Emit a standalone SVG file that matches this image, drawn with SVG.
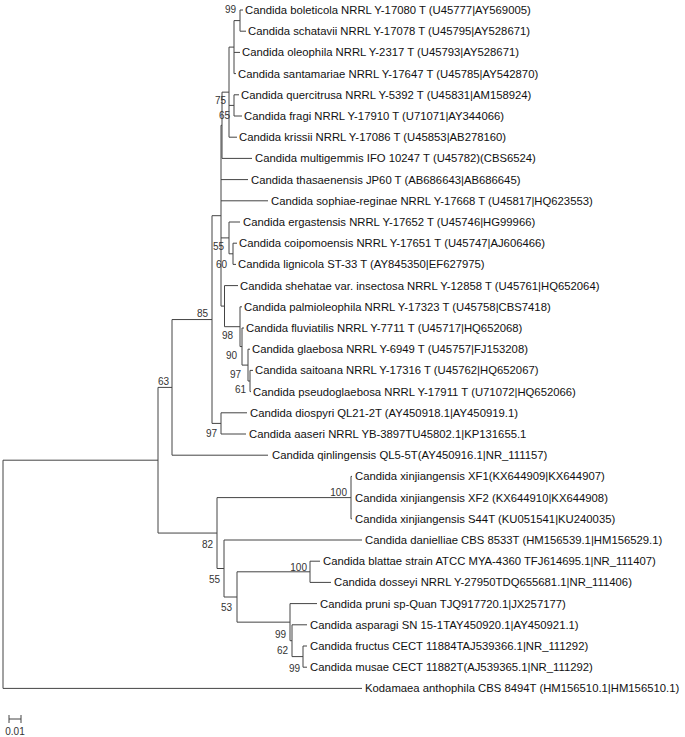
<svg xmlns="http://www.w3.org/2000/svg" width="685" height="737" viewBox="0 0 685 737">
<style>
.ln{fill:none;stroke:#444;stroke-width:1}
.tx{font-family:"Liberation Sans",Arial,sans-serif;font-size:11.3px;fill:#111}
.bs{font-family:"Liberation Sans",Arial,sans-serif;font-size:10px;fill:#333;text-anchor:end}
</style>
<rect width="685" height="737" fill="#fff"/>
<g id="connectors" class="ln">
<path d="M3,460.2V688.4M3,460.2H158M3,688.4H362"/>
<path d="M158,387.4V533.05M158,387.4H172M158,533.05H217"/>
<path d="M172,319.55V455.2M172,319.55H212M172,455.2H268"/>
<path d="M212,215.7V423.4M212,215.7H221M212,423.4H221"/>
<path d="M221,412.8V434M221,412.8H247M221,434H246"/>
<path d="M221,125.3V306.1M221,125.3H222M221,179.6H248M221,200.8H268M221,237.9H229M221,306.1H224.5"/>
<path d="M222,92.15V158.4M222,92.15H229M222,158.4H252"/>
<path d="M229,47.1V137.2M229,47.1H234M229,105.4H234M229,137.2H237"/>
<path d="M234,20.6V73.6M234,20.6H240M234,52.4H240M234,73.6H236"/>
<path d="M240,10V31.2M240,10H243M240,31.2H246"/>
<path d="M234,94.8V116M234,94.8H239M234,116H242"/>
<path d="M229,222V253.8M229,222H240M229,253.8H233"/>
<path d="M233,243.2V264.4M233,243.2H237M233,264.4H236"/>
<path d="M224.5,285.6V326.7M224.5,285.6H238M224.5,326.7H240"/>
<path d="M240,306.8V346.55M240,306.8H242M240,346.55H242"/>
<path d="M242,328V365.1M242,328H244M242,365.1H248"/>
<path d="M248,349.2V381M248,349.2H250M248,381H250"/>
<path d="M250,370.4V391.6M250,370.4H253M250,391.6H251"/>
<path d="M217,497.6V568.5M217,497.6H351M217,568.5H224"/>
<path d="M351,476.4V518.8M351,476.4H352M351,518.8H352"/>
<path d="M224,540V597M224,540H362M224,597H237"/>
<path d="M237,571.8V622.15M237,571.8H310M237,622.15H290"/>
<path d="M310,561.2V582.4M310,561.2H320M310,582.4H331"/>
<path d="M290,603.6V640.7M290,603.6H317M290,640.7H292"/>
<path d="M292,624.8V656.6M292,624.8H307M292,656.6H303"/>
<path d="M303,646V667.2M303,646H307M303,667.2H307"/>
</g>
<g id="support">
<text class="bs" x="236" y="12.5">99</text>
<text class="bs" x="226" y="103.5">75</text>
<text class="bs" x="230" y="119">65</text>
<text class="bs" x="224" y="249.5">55</text>
<text class="bs" x="227" y="267.5">60</text>
<text class="bs" x="208" y="316.5">85</text>
<text class="bs" x="169" y="384.5">63</text>
<text class="bs" x="233" y="338.5">98</text>
<text class="bs" x="237" y="358.5">90</text>
<text class="bs" x="241" y="377.5">97</text>
<text class="bs" x="246" y="392.5">61</text>
<text class="bs" x="217" y="436.5">97</text>
<text class="bs" x="347" y="495.5">100</text>
<text class="bs" x="213" y="547.5">82</text>
<text class="bs" x="220" y="582.5">55</text>
<text class="bs" x="307" y="570.5">100</text>
<text class="bs" x="232" y="610.5">53</text>
<text class="bs" x="286" y="637.5">99</text>
<text class="bs" x="288" y="653.5">62</text>
<text class="bs" x="300" y="671.5">99</text>
</g>
<g id="n1"><text class="tx" x="245" y="14">Candida boleticola NRRL Y-17080 T (U45777|AY569005)</text></g>
<g id="n2"><text class="tx" x="248" y="35.2">Candida schatavii NRRL Y-17078 T (U45795|AY528671)</text></g>
<g id="n3"><text class="tx" x="242" y="56.4">Candida oleophila NRRL Y-2317 T (U45793|AY528671)</text></g>
<g id="n4"><text class="tx" x="238" y="77.6">Candida santamariae NRRL Y-17647 T (U45785|AY542870)</text></g>
<g id="n5"><text class="tx" x="241" y="98.8">Candida quercitrusa NRRL Y-5392 T (U45831|AM158924)</text></g>
<g id="n6"><text class="tx" x="244" y="120">Candida fragi NRRL Y-17910 T (U71071|AY344066)</text></g>
<g id="n7"><text class="tx" x="239" y="141.2">Candida krissii NRRL Y-17086 T (U45853|AB278160)</text></g>
<g id="n8"><text class="tx" x="255" y="162.4">Candida multigemmis IFO 10247 T (U45782)(CBS6524)</text></g>
<g id="n9"><text class="tx" x="251" y="183.6">Candida thasaenensis JP60 T (AB686643|AB686645)</text></g>
<g id="n10"><text class="tx" x="271" y="204.8">Candida sophiae-reginae NRRL Y-17668 T (U45817|HQ623553)</text></g>
<g id="n11"><text class="tx" x="243" y="226">Candida ergastensis NRRL Y-17652 T (U45746|HG99966)</text></g>
<g id="n12"><text class="tx" x="239" y="247.2">Candida coipomoensis NRRL Y-17651 T (U45747|AJ606466)</text></g>
<g id="n13"><text class="tx" x="238" y="268.4">Candida lignicola ST-33 T (AY845350|EF627975)</text></g>
<g id="n14"><text class="tx" x="240" y="289.6">Candida shehatae var. insectosa NRRL Y-12858 T (U45761|HQ652064)</text></g>
<g id="n15"><text class="tx" x="244" y="310.8">Candida palmioleophila NRRL Y-17323 T (U45758|CBS7418)</text></g>
<g id="n16"><text class="tx" x="246" y="332">Candida fluviatilis NRRL Y-7711 T (U45717|HQ652068)</text></g>
<g id="n17"><text class="tx" x="252" y="353.2">Candida glaebosa NRRL Y-6949 T (U45757|FJ153208)</text></g>
<g id="n18"><text class="tx" x="255" y="374.4">Candida saitoana NRRL Y-17316 T (U45762|HQ652067)</text></g>
<g id="n19"><text class="tx" x="253" y="395.6">Candida pseudoglaebosa NRRL Y-17911 T (U71072|HQ652066)</text></g>
<g id="n20"><text class="tx" x="250" y="416.8">Candida diospyri QL21-2T (AY450918.1|AY450919.1)</text></g>
<g id="n21"><text class="tx" x="249" y="438">Candida aaseri NRRL YB-3897TU45802.1|KP131655.1</text></g>
<g id="n22"><text class="tx" x="272" y="459.2">Candida qinlingensis QL5-5T(AY450916.1|NR_111157)</text></g>
<g id="n23"><text class="tx" x="355" y="480.4">Candida xinjiangensis XF1(KX644909|KX644907)</text></g>
<g id="n24"><text class="tx" x="355" y="501.6">Candida xinjiangensis XF2 (KX644910|KX644908)</text></g>
<g id="n25"><text class="tx" x="355" y="522.8">Candida xinjiangensis S44T (KU051541|KU240035)</text></g>
<g id="n26"><text class="tx" x="365" y="544">Candida danielliae CBS 8533T (HM156539.1|HM156529.1)</text></g>
<g id="n27"><text class="tx" x="323" y="565.2">Candida blattae strain ATCC MYA-4360 TFJ614695.1|NR_111407)</text></g>
<g id="n28"><text class="tx" x="334" y="586.4">Candida dosseyi NRRL Y-27950TDQ655681.1|NR_111406)</text></g>
<g id="n29"><text class="tx" x="320" y="607.6">Candida pruni sp-Quan TJQ917720.1|JX257177)</text></g>
<g id="n30"><text class="tx" x="310" y="628.8">Candida asparagi SN 15-1TAY450920.1|AY450921.1)</text></g>
<g id="n31"><text class="tx" x="310" y="650">Candida fructus CECT 11884TAJ539366.1|NR_111292)</text></g>
<g id="n32"><text class="tx" x="310" y="671.2">Candida musae CECT 11882T(AJ539365.1|NR_111292)</text></g>
<g id="n33"><text class="tx" x="365" y="692.4">Kodamaea anthophila CBS 8494T (HM156510.1|HM156510.1)</text></g>
<g id="scale">
<path class="ln" d="M9,719H21M9,715V723M21,715V723"/>
<text class="bs" x="15" y="735" style="text-anchor:middle">0.01</text>
</g>
</svg>
